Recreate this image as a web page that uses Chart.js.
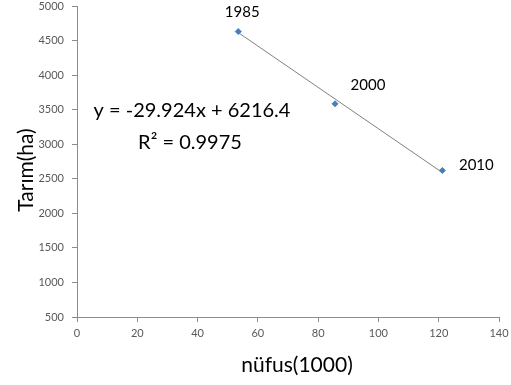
<!DOCTYPE html>
<html>
<head>
<meta charset="utf-8">
<script src="https://cdn.jsdelivr.net/npm/chart.js@4/dist/chart.umd.min.js"></script>
<style>
  html, body { margin: 0; padding: 0; background: #fff; }
  #wrap { width: 511px; height: 385px; }
</style>
</head>
<body>
<div id="wrap"><canvas id="chartTarim" width="511" height="385"></canvas></div>
<script>
// data
const yillar = ["1985", "2000", "2010"];
const nufus = [53.5, 85.6, 121.2];
const tarim = [4630, 3585, 2620];

// trend line end points (as drawn)
const trendX = [53.5, 121.2];
const trendY = [4615, 2590];

const xTicks = [0, 20, 40, 60, 80, 100, 120, 140];
const yTicks = [500, 1000, 1500, 2000, 2500, 3000, 3500, 4000, 4500, 5000];

const denklem = "y = -29.924x + 6216.4";
const r2 = "R² = 0.9975";

const FONT = "Lato, 'Open Sans', sans-serif";
const axisGray = "#8c8c8c";

const yazilar = {
  id: "yazilar",
  afterDatasetsDraw(chart) {
    const ctx = chart.ctx;
    const meta = chart.getDatasetMeta(0);
    // point labels
    const offs = [[4, -19], [33, -19], [34, -5]];
    ctx.save();
    ctx.fillStyle = "#000";
    ctx.font = "15px " + FONT;
    ctx.textAlign = "center";
    ctx.textBaseline = "middle";
    meta.data.forEach((p, i) => {
      ctx.fillText(yillar[i], p.x + offs[i][0], p.y + offs[i][1]);
    });
    // regression text
    ctx.font = "20px " + FONT;
    ctx.fillText(denklem, 192, 111);
    ctx.fillText(r2, 190, 143);
    // axis titles
    ctx.font = "21px " + FONT;
    ctx.fillText("nüfus(1000)", 297, 365);
    ctx.translate(26, 170);
    ctx.rotate(-Math.PI / 2);
    ctx.fillText("Tarım(ha)", 0, 0);
    ctx.restore();
  }
};

new Chart(document.getElementById("chartTarim").getContext("2d"), {
  type: "scatter",
  data: {
    datasets: [
      {
        label: "Tarım",
        data: nufus.map((x, i) => ({ x: x, y: tarim[i] })),
        pointStyle: "rectRot",
        pointRadius: 3,
        backgroundColor: "#4a7ebb",
        borderColor: "#4a7ebb",
        borderWidth: 1,
        order: 1
      },
      {
        label: "trend",
        type: "line",
        data: trendX.map((x, i) => ({ x: x, y: trendY[i] })),
        borderColor: "#808080",
        borderWidth: 1,
        pointRadius: 0,
        fill: false,
        order: 2
      }
    ]
  },
  options: {
    responsive: false,
    animation: false,
    layout: { padding: { left: 0, top: 6, right: 12, bottom: 0 } },
    plugins: { legend: { display: false }, tooltip: { enabled: false } },
    scales: {
      x: {
        type: "linear",
        min: 0,
        max: 140,
        afterBuildTicks: (s) => { s.ticks = xTicks.map((v) => ({ value: v })); },
        afterFit: (s) => { s.height = 68; s.paddingLeft = 0; s.paddingRight = 0; },
        grid: { drawOnChartArea: false, drawTicks: true, tickLength: 5, color: axisGray },
        border: { color: axisGray, width: 1 },
        ticks: { color: "#595959", font: { family: FONT, size: 11 }, padding: 5, maxRotation: 0 }
      },
      y: {
        type: "linear",
        min: 500,
        max: 5000,
        afterBuildTicks: (s) => { s.ticks = yTicks.map((v) => ({ value: v })); },
        afterFit: (s) => { s.width = 77; s.paddingTop = 0; s.paddingBottom = 0; },
        grid: { drawOnChartArea: false, drawTicks: true, tickLength: 5, color: axisGray },
        border: { color: axisGray, width: 1 },
        ticks: {
          color: "#595959",
          font: { family: FONT, size: 11 },
          padding: 8,
          callback: (v) => String(v)
        }
      }
    }
  },
  plugins: [yazilar]
});
</script>
</body>
</html>
